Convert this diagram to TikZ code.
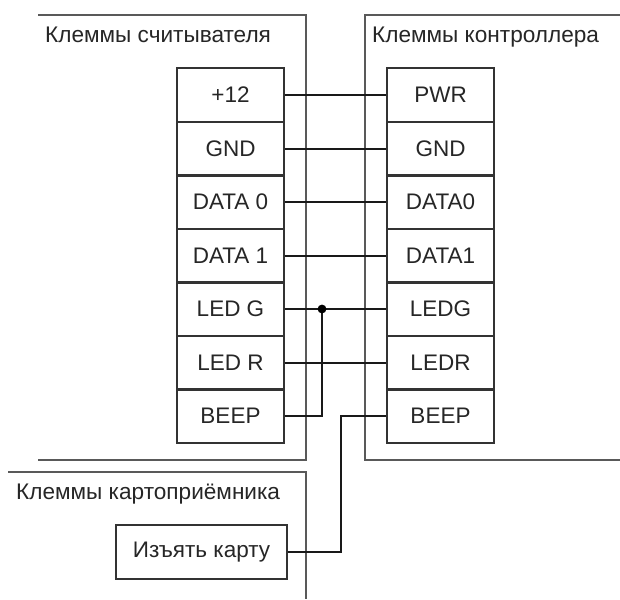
\documentclass[tikz,border=0pt]{standalone}
\usepackage{fontspec}
\setmainfont{Liberation Sans}
\tikzset{
  cell/.style={draw=black!80,line width=1.2pt,rectangle,minimum width=107pt,minimum height=54pt,inner sep=0pt,anchor=center,font=\fontsize{22.5}{26}\selectfont,text=black!85},
  cardbox/.style={cell,minimum width=171pt,minimum height=54pt},
  title/.style={inner sep=0pt,anchor=base west,font=\fontsize{22.6}{26}\selectfont,text=black!85},
  frame/.style={draw=black!65,line width=1.5pt},
  wire/.style={draw=black!90,line width=1.8pt},
}
\begin{document}
\begin{tikzpicture}[x=1pt,y=-1pt]
\useasboundingbox (0,0) rectangle (620,599);
\fill[white] (0,0) rectangle (620,599);
% frames
\draw[frame] (38,15) -- (306,15) -- (306,460) -- (38,460);
\draw[frame] (620,15) -- (365,15) -- (365,460) -- (620,460);
\draw[frame] (8,472) -- (306,472) -- (306,599);
% titles
\node[title] (t1) at (45,43) {Клеммы считывателя};
\node[title] (t2) at (372,43) {Клеммы контроллера};
\node[title] (t3) at (16,499) {Клеммы картоприёмника};
% left column
\node[cell] (a1) at (230.5,95) {+12};
\node[cell] (a2) at (230.5,149) {GND};
\node[cell] (a3) at (230.5,202) {DATA 0};
\node[cell] (a4) at (230.5,256) {DATA 1};
\node[cell] (a5) at (230.5,309) {LED G};
\node[cell] (a6) at (230.5,363) {LED R};
\node[cell] (a7) at (230.5,416) {BEEP};
% right column
\node[cell] (b1) at (440.5,95) {PWR};
\node[cell] (b2) at (440.5,149) {GND};
\node[cell] (b3) at (440.5,202) {DATA0};
\node[cell] (b4) at (440.5,256) {DATA1};
\node[cell] (b5) at (440.5,309) {LEDG};
\node[cell] (b6) at (440.5,363) {LEDR};
\node[cell] (b7) at (440.5,416) {BEEP};
% card box
\node[cardbox] (c) at (201.5,552) {Изъять карту};
% wires
\draw[wire] (a1) -- (b1);
\draw[wire] (a2) -- (b2);
\draw[wire] (a3) -- (b3);
\draw[wire] (a4) -- (b4);
\draw[wire] (a5) -- (b5);
\draw[wire] (a6) -- (b6);
\coordinate (j) at (322,309);
\coordinate (k) at (341,416);
\draw[wire] (a7.east) -| (j);
\draw[wire] (c.east) -| (k) -- (b7.west);
\fill[black] (j) circle (4.4pt);
\end{tikzpicture}
\end{document}
